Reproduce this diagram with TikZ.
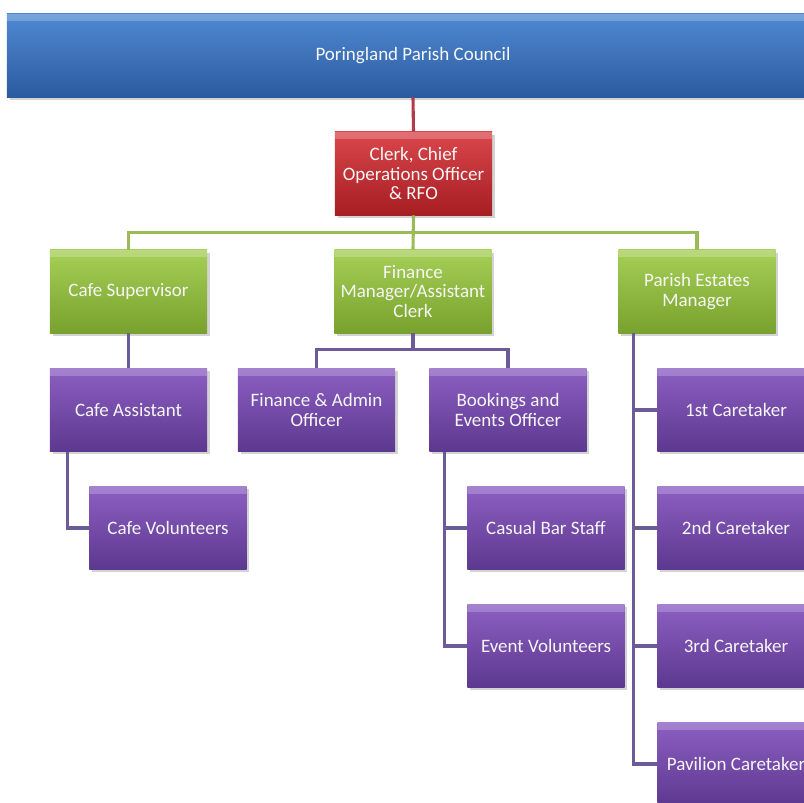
\documentclass[tikz,border=0pt]{standalone}
\usepackage{fontspec}
\setmainfont{Carlito}
\usetikzlibrary{shadows}

\definecolor{bartop}{HTML}{4F8AD3}
\definecolor{barbot}{HTML}{2C5A9F}
\definecolor{redtop}{HTML}{D9474C}
\definecolor{redbot}{HTML}{A61D22}
\definecolor{greentop}{HTML}{A6CF57}
\definecolor{greenbot}{HTML}{78A22D}
\definecolor{purtop}{HTML}{8C5FC2}
\definecolor{purbot}{HTML}{5D388F}
\definecolor{redline}{HTML}{B33A48}
\definecolor{greenline}{HTML}{9BBB59}
\definecolor{purline}{HTML}{6C5B96}

\begin{document}
\begin{tikzpicture}[x=0.025cm, y=-0.025cm,
  every node/.style={font=\fontsize{13.5}{14}\selectfont, text=white!93!gray, align=center},
  box/.style={minimum width=3.925cm, minimum height=2.075cm, inner sep=0pt,
    drop shadow={shadow xshift=2pt, shadow yshift=-2pt, opacity=0.35},
    path picture={\fill[white, opacity=0.22] (path picture bounding box.north west)
      rectangle ([yshift=-5pt]path picture bounding box.north east);}},
  bluebox/.style={box, top color=bartop, bottom color=barbot},
  redbox/.style={box, top color=redtop, bottom color=redbot},
  greenbox/.style={box, top color=greentop, bottom color=greenbot},
  purbox/.style={box, top color=purtop, bottom color=purbot},
  link/.style={line width=2.2pt}]

  \clip (0,0) rectangle (804,803);

  % topo
  \node[bluebox, minimum width=20.3cm] (council) at (413,55.5) {Poringland Parish Council};
  \node[redbox] (clerk) at (413.5,173.5) {Clerk, Chief\\Operations Officer\\\& RFO};

  % gestores
  \node[greenbox] (cafesup) at (128.5,291.5) {Cafe Supervisor};
  \node[greenbox] (finmgr) at (413,291.5) {Finance\\Manager/Assistant\\Clerk};
  \node[greenbox] (estates) at (697,291.5) {Parish Estates\\Manager};

  % equipe
  \node[purbox] (cafeasst) at (128.5,410) {Cafe Assistant};
  \node[purbox] (cafevol) at (168,528) {Cafe Volunteers};
  \node[purbox] (finadmin) at (316.5,410) {Finance \& Admin\\Officer};
  \node[purbox] (bookings) at (508,410) {Bookings and\\Events Officer};
  \node[purbox] (casual) at (546,528) {Casual Bar Staff};
  \node[purbox] (eventvol) at (546,646) {Event Volunteers};
  \node[purbox] (care1) at (736,410) {1st Caretaker};
  \node[purbox] (care2) at (736,528) {2nd Caretaker};
  \node[purbox] (care3) at (736,646) {3rd Caretaker};
  \node[purbox] (pav) at (736,764) {Pavilion Caretaker};

  % ligacoes
  \draw[link, redline] (council.south) -- (clerk.north);
  \draw[link, greenline] (cafesup.north) -- ++(0,-17) -| (estates.north);
  \draw[link, greenline] (clerk.south) -- (finmgr.north);

  \draw[link, purline] (cafesup.south) -- (cafeasst.north);
  \draw[link, purline] (cafeasst.south west) ++(18,0) |- (cafevol.west);

  \draw[link, purline] (finadmin.north) -- ++(0,-19) -| (bookings.north);
  \draw[link, purline] (finmgr.south) -- ++(0,17);
  \draw[link, purline] (bookings.south west) ++(15,0) |- (eventvol.west);
  \draw[link, purline] (casual.west) -- ++(-23,0);

  \draw[link, purline] (estates.south west) ++(15,0) |- (pav.west);
  \foreach \c in {care1,care2,care3}{\draw[link, purline] (\c.west) -- ++(-25,0);}

\end{tikzpicture}
\end{document}
